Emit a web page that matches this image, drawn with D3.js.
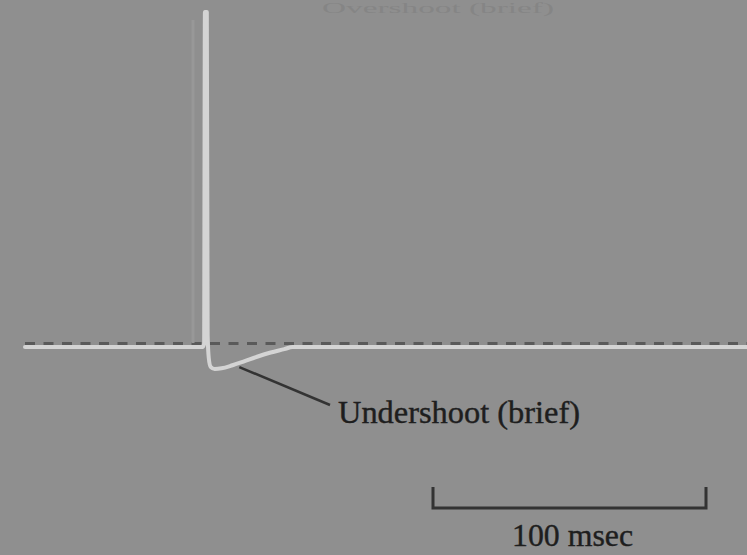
<!DOCTYPE html>
<html><head><meta charset="utf-8">
<script src="https://cdn.jsdelivr.net/npm/d3@7"></script>
<style>html,body{margin:0;padding:0;background:#8f8f8f;}svg{display:block;}</style>
</head><body>
<script>
// Membrane potential trace (time in ms, voltage in mV)
const traceTime = [0, 65.0, 65.6, 65.9, 66.6, 66.9, 67.3, 68.0, 69.5, 72, 76, 80, 85, 90, 95, 98, 265];
const traceVolt = [-70, -70, -69, 40, 40, -66, -73.5, -76.5, -77.2, -77, -76, -74.8, -73.2, -71.8, -70.7, -70, -70];
const restingLevel = -70;
const scaleBarMs = 100;
const scaleBarLabel = "100 msec";
const annotationLabel = "Undershoot (brief)";
const annotationPoint = {t: 78.5, v: -75.6};
const topLabel = "Overshoot (brief)";

const W = 747, H = 555;
const svg = d3.select("body").append("svg").attr("width", W).attr("height", H);
svg.append("rect").attr("width", W).attr("height", H).attr("fill", "#8f8f8f");

const x = d3.scaleLinear().domain([0, 100]).range([25, 298]);
const y = d3.scaleLinear().domain([-70, 40]).range([347, 12]);

// faint label at top
svg.append("text").attr("x", 322).attr("y", 13)
  .attr("font-family", "Liberation Serif").attr("font-size", 14)
  .attr("textLength", 232).attr("lengthAdjust", "spacingAndGlyphs")
  .attr("fill", "#858585").text(topLabel);

// dashed resting line
svg.append("line")
  .attr("x1", x(0)).attr("x2", W).attr("y1", y(restingLevel) - 3.5).attr("y2", y(restingLevel) - 3.5)
  .attr("stroke", "#5a5a5a").attr("stroke-width", 3).attr("stroke-dasharray", "10,8.5");

// faint ghost of the spike
svg.append("line").attr("x1", 193).attr("x2", 193).attr("y1", 20).attr("y2", 343)
  .attr("stroke", "#989898").attr("stroke-width", 3);

// trace
const pts = traceTime.map((t, i) => [t, traceVolt[i]]);
const line = d3.line().x(d => x(d[0])).y(d => y(d[1])).curve(d3.curveMonotoneX);
svg.append("path").attr("d", line(pts)).attr("fill", "none")
  .attr("stroke", "#d4d4d4").attr("stroke-width", 4).attr("stroke-linejoin", "round").attr("stroke-linecap", "round");

// annotation leader and label
svg.append("line")
  .attr("x1", x(annotationPoint.t)).attr("y1", y(annotationPoint.v) + 3)
  .attr("x2", 330).attr("y2", 405)
  .attr("stroke", "#333").attr("stroke-width", 2.5);
svg.append("text").attr("x", 338).attr("y", 423)
  .attr("font-family", "Liberation Serif").attr("font-size", 32)
  .attr("textLength", 242).attr("lengthAdjust", "spacingAndGlyphs")
  .attr("fill", "#1e1e1e").attr("stroke", "#1e1e1e").attr("stroke-width", 0.4)
  .text(annotationLabel);

// scale bar
const sb0 = 433, sb1 = sb0 + (x(scaleBarMs) - x(0));
svg.append("path")
  .attr("d", `M${sb0},487 V508 H${sb1} V487`)
  .attr("fill", "none").attr("stroke", "#333").attr("stroke-width", 3);
svg.append("text").attr("x", 512).attr("y", 546)
  .attr("font-family", "Liberation Serif").attr("font-size", 32)
  .attr("textLength", 121).attr("lengthAdjust", "spacingAndGlyphs")
  .attr("fill", "#1e1e1e").attr("stroke", "#1e1e1e").attr("stroke-width", 0.4)
  .text(scaleBarLabel);
</script>
</body></html>
